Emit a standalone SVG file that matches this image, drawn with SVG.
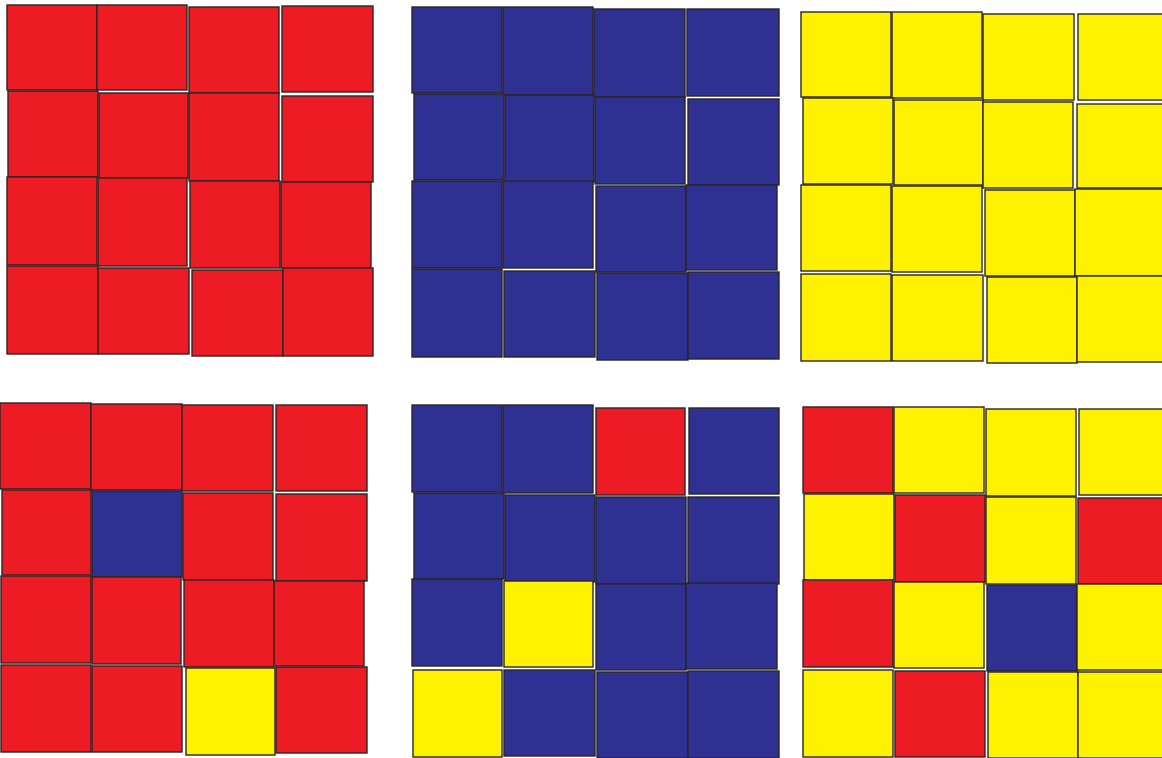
<svg xmlns="http://www.w3.org/2000/svg" width="1162" height="758" viewBox="0 0 1162 758">
<style>
rect{stroke:#2a2526;stroke-width:1.4}
.r{fill:#ed1c24}.b{fill:#2e3192}.y{fill:#fff200}
</style>
<rect x="0" y="0" width="1162" height="758" fill="#fff" style="stroke:none"/>
<g id="grid-red">
<rect class="r" x="7" y="5" width="90" height="85"/>
<rect class="r" x="97" y="5" width="90" height="85"/>
<rect class="r" x="189" y="7" width="90" height="86"/>
<rect class="r" x="282" y="6" width="91" height="86"/>
<rect class="r" x="8" y="91" width="90" height="86"/>
<rect class="r" x="99" y="93" width="89" height="85"/>
<rect class="r" x="189" y="93" width="90" height="88"/>
<rect class="r" x="282" y="96" width="91" height="86"/>
<rect class="r" x="7" y="177" width="90" height="88"/>
<rect class="r" x="98" y="178" width="89" height="88"/>
<rect class="r" x="190" y="181" width="90" height="87"/>
<rect class="r" x="281" y="182" width="90" height="86"/>
<rect class="r" x="7" y="266" width="91" height="88"/>
<rect class="r" x="98" y="268" width="91" height="86"/>
<rect class="r" x="192" y="270" width="91" height="86"/>
<rect class="r" x="283" y="268" width="90" height="88"/>
</g>
<g id="grid-blue">
<rect class="b" x="412" y="7" width="90" height="86"/>
<rect class="b" x="503" y="7" width="90" height="88"/>
<rect class="b" x="594" y="9" width="91" height="88"/>
<rect class="b" x="687" y="9" width="92" height="87"/>
<rect class="b" x="414" y="94" width="90" height="86"/>
<rect class="b" x="505" y="95" width="89" height="87"/>
<rect class="b" x="595" y="97" width="90" height="87"/>
<rect class="b" x="688" y="99" width="91" height="86"/>
<rect class="b" x="412" y="181" width="90" height="87"/>
<rect class="b" x="503" y="181" width="90" height="87"/>
<rect class="b" x="596" y="186" width="90" height="86"/>
<rect class="b" x="686" y="185" width="91" height="85"/>
<rect class="b" x="412" y="269" width="90" height="88"/>
<rect class="b" x="504" y="271" width="91" height="86"/>
<rect class="b" x="597" y="273" width="91" height="87"/>
<rect class="b" x="688" y="272" width="91" height="87"/>
</g>
<g id="grid-yellow">
<rect class="y" x="801" y="12" width="90" height="85"/>
<rect class="y" x="892" y="12" width="90" height="86"/>
<rect class="y" x="983" y="14" width="91" height="86"/>
<rect class="y" x="1078" y="14" width="90" height="86"/>
<rect class="y" x="803" y="98" width="90" height="86"/>
<rect class="y" x="894" y="100" width="89" height="85"/>
<rect class="y" x="983" y="102" width="90" height="86"/>
<rect class="y" x="1077" y="104" width="90" height="84"/>
<rect class="y" x="801" y="185" width="90" height="86"/>
<rect class="y" x="892" y="186" width="90" height="86"/>
<rect class="y" x="985" y="190" width="90" height="86"/>
<rect class="y" x="1075" y="189" width="92" height="87"/>
<rect class="y" x="801" y="274" width="90" height="87"/>
<rect class="y" x="892" y="275" width="91" height="86"/>
<rect class="y" x="987" y="277" width="90" height="86"/>
<rect class="y" x="1077" y="276" width="90" height="86"/>
</g>
<g id="grid-red-mixed">
<rect class="r" x="0" y="403" width="91" height="86"/>
<rect class="r" x="91" y="404" width="91" height="86"/>
<rect class="r" x="182" y="405" width="91" height="86"/>
<rect class="r" x="276" y="405" width="91" height="86"/>
<rect class="r" x="2" y="490" width="89" height="85"/>
<rect class="b" x="92" y="491" width="90" height="86"/>
<rect class="r" x="183" y="493" width="90" height="87"/>
<rect class="r" x="276" y="494" width="91" height="87"/>
<rect class="r" x="1" y="576" width="90" height="87"/>
<rect class="r" x="92" y="577" width="89" height="87"/>
<rect class="r" x="184" y="580" width="90" height="87"/>
<rect class="r" x="274" y="581" width="90" height="85"/>
<rect class="r" x="1" y="665" width="90" height="87"/>
<rect class="r" x="92" y="666" width="90" height="86"/>
<rect class="y" x="186" y="668" width="89" height="87"/>
<rect class="r" x="276" y="667" width="91" height="86"/>
</g>
<g id="grid-blue-mixed">
<rect class="b" x="412" y="405" width="90" height="87"/>
<rect class="b" x="503" y="405" width="90" height="88"/>
<rect class="r" x="596" y="408" width="89" height="87"/>
<rect class="b" x="689" y="408" width="90" height="86"/>
<rect class="b" x="414" y="493" width="90" height="86"/>
<rect class="b" x="505" y="495" width="90" height="87"/>
<rect class="b" x="596" y="497" width="90" height="87"/>
<rect class="b" x="688" y="497" width="91" height="87"/>
<rect class="b" x="412" y="579" width="90" height="87"/>
<rect class="y" x="504" y="581" width="89" height="86"/>
<rect class="b" x="596" y="584" width="90" height="86"/>
<rect class="b" x="686" y="583" width="91" height="86"/>
<rect class="y" x="413" y="670" width="89" height="87"/>
<rect class="b" x="504" y="670" width="91" height="86"/>
<rect class="b" x="597" y="672" width="91" height="86"/>
<rect class="b" x="688" y="671" width="91" height="87"/>
</g>
<g id="grid-yellow-mixed">
<rect class="r" x="803" y="407" width="90" height="86"/>
<rect class="y" x="894" y="407" width="90" height="86"/>
<rect class="y" x="986" y="409" width="90" height="87"/>
<rect class="y" x="1079" y="409" width="90" height="86"/>
<rect class="y" x="804" y="494" width="90" height="86"/>
<rect class="r" x="895" y="495" width="90" height="87"/>
<rect class="y" x="986" y="497" width="90" height="87"/>
<rect class="r" x="1078" y="498" width="90" height="86"/>
<rect class="r" x="803" y="580" width="90" height="87"/>
<rect class="y" x="894" y="582" width="90" height="86"/>
<rect class="b" x="987" y="585" width="90" height="86"/>
<rect class="y" x="1077" y="584" width="90" height="86"/>
<rect class="y" x="803" y="670" width="90" height="87"/>
<rect class="r" x="895" y="671" width="90" height="86"/>
<rect class="y" x="988" y="672" width="90" height="86"/>
<rect class="y" x="1078" y="672" width="90" height="86"/>
</g>
</svg>
